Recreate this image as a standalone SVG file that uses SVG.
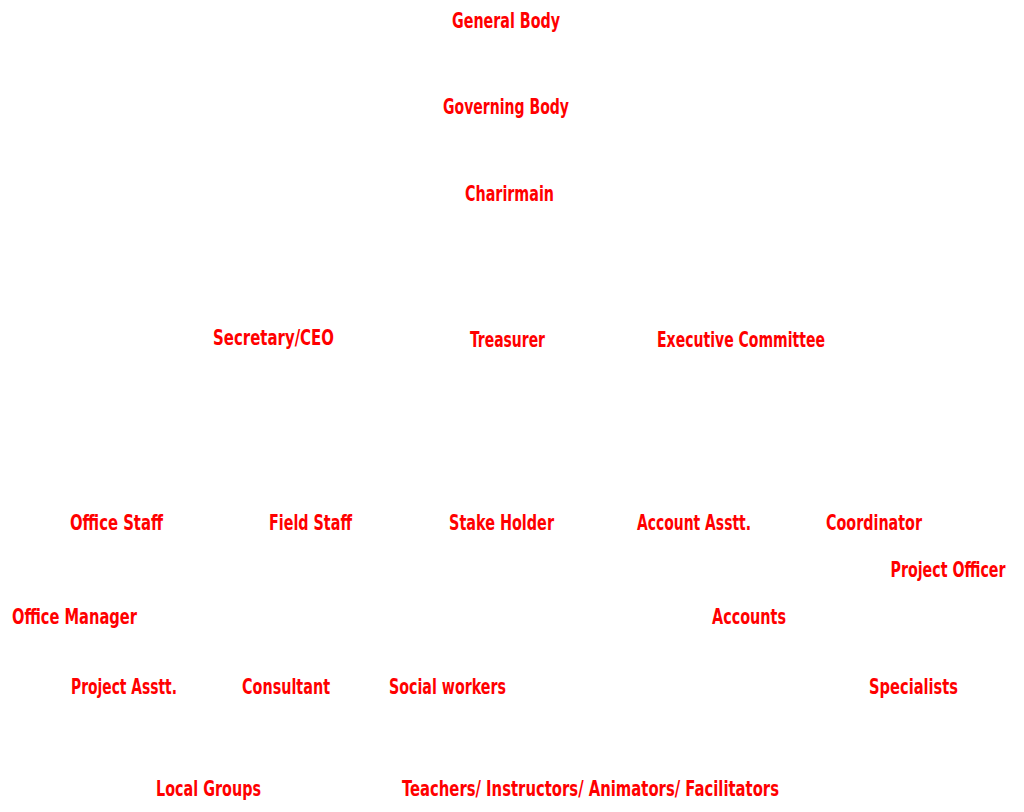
<svg xmlns="http://www.w3.org/2000/svg" width="1024" height="812" viewBox="0 0 1024 812">
<style>
text{font-family:"Liberation Sans Narrow","DejaVu Sans Condensed","Liberation Sans",sans-serif;font-weight:bold;font-size:20.5px;fill:#ff0000;text-anchor:middle}
.sm{font-size:19.5px}
</style>
<rect width="1024" height="812" fill="#ffffff"/>
<g id="connectors"></g>
<g id="n-general-body"><text x="506" y="28" textLength="108" lengthAdjust="spacingAndGlyphs">General Body</text></g>
<g id="n-governing-body"><text x="506" y="114" textLength="126" lengthAdjust="spacingAndGlyphs">Governing Body</text></g>
<g id="n-chairman"><text x="509.5" y="201" textLength="89" lengthAdjust="spacingAndGlyphs">Charirmain</text></g>
<g id="n-secretary"><text x="273.5" y="345" textLength="121" lengthAdjust="spacingAndGlyphs">Secretary/CEO</text></g>
<g id="n-treasurer"><text x="507.5" y="347" textLength="75" lengthAdjust="spacingAndGlyphs">Treasurer</text></g>
<g id="n-exec"><text x="741" y="347" textLength="168" lengthAdjust="spacingAndGlyphs">Executive Committee</text></g>
<g id="n-office-staff"><text x="116.5" y="530" textLength="93" lengthAdjust="spacingAndGlyphs">Office Staff</text></g>
<g id="n-field-staff"><text x="310.5" y="530" textLength="83" lengthAdjust="spacingAndGlyphs">Field Staff</text></g>
<g id="n-stake-holder"><text x="501.5" y="530" textLength="105" lengthAdjust="spacingAndGlyphs">Stake Holder</text></g>
<g id="n-account-asstt"><text x="694" y="530" textLength="114" lengthAdjust="spacingAndGlyphs">Account Asstt.</text></g>
<g id="n-coordinator"><text x="874" y="530" textLength="96" lengthAdjust="spacingAndGlyphs">Coordinator</text></g>
<g id="n-project-officer"><text x="948" y="577" textLength="115" lengthAdjust="spacingAndGlyphs">Project Officer</text></g>
<g id="n-office-manager"><text x="74.5" y="624" textLength="125" lengthAdjust="spacingAndGlyphs">Office Manager</text></g>
<g id="n-accounts"><text x="749" y="624" textLength="74" lengthAdjust="spacingAndGlyphs">Accounts</text></g>
<g id="n-project-asstt"><text x="124" y="694" textLength="106" lengthAdjust="spacingAndGlyphs">Project Asstt.</text></g>
<g id="n-consultant"><text x="286" y="694" textLength="88" lengthAdjust="spacingAndGlyphs">Consultant</text></g>
<g id="n-social-workers"><text x="447.5" y="694" textLength="117" lengthAdjust="spacingAndGlyphs">Social workers</text></g>
<g id="n-specialists"><text x="913.5" y="694" textLength="89" lengthAdjust="spacingAndGlyphs">Specialists</text></g>
<g id="n-local-groups"><text x="208.5" y="796" textLength="105" lengthAdjust="spacingAndGlyphs">Local Groups</text></g>
<g id="n-teachers"><text x="590.5" y="796" textLength="377" lengthAdjust="spacingAndGlyphs">Teachers/ Instructors/ Animators/ Facilitators</text></g>
</svg>
